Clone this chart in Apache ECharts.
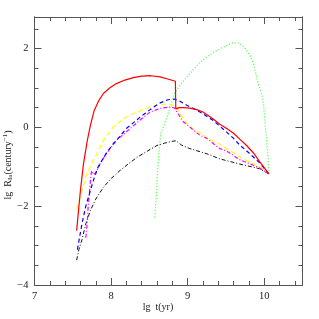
<!DOCTYPE html>
<html><head><meta charset="utf-8">
<script src="https://cdn.jsdelivr.net/npm/echarts@6/dist/echarts.min.js"></script>
<style>html,body{margin:0;padding:0;background:#fff}#c{width:319px;height:319px}</style>
</head><body><div id="c"></div>
<script>
const redData = [[7.55,-2.62],[7.60,-1.60],[7.64,-0.92],[7.69,-0.33],[7.73,0.05],[7.78,0.43],[7.84,0.68],[7.90,0.86],[7.98,1.00],[8.07,1.11],[8.18,1.20],[8.29,1.26],[8.40,1.30],[8.52,1.31],[8.64,1.28],[8.75,1.22],[8.84,1.17],[8.845,0.47],[8.89,0.50],[8.94,0.50],[9.03,0.49],[9.12,0.45],[9.20,0.39],[9.33,0.22],[9.42,0.08],[9.51,-0.03],[9.60,-0.15],[9.68,-0.30],[9.77,-0.46],[9.86,-0.65],[9.94,-0.87],[10.00,-1.02],[10.06,-1.18]];
const yellowData = [[7.55,-2.07],[7.62,-1.60],[7.68,-1.18],[7.74,-0.95],[7.79,-0.76],[7.85,-0.53],[7.90,-0.33],[7.97,-0.15],[8.03,0.01],[8.16,0.22],[8.34,0.39],[8.51,0.52],[8.64,0.58],[8.75,0.59],[8.84,0.54],[8.90,0.35],[8.99,0.09],[9.06,-0.03],[9.16,-0.14],[9.29,-0.31],[9.42,-0.43],[9.55,-0.59],[9.68,-0.75],[9.81,-0.88],[9.94,-1.00],[10.06,-1.18]];
const blueData = [[7.56,-3.10],[7.62,-2.45],[7.67,-2.00],[7.73,-1.60],[7.78,-1.28],[7.83,-1.01],[7.93,-0.68],[8.03,-0.41],[8.07,-0.33],[8.20,-0.03],[8.38,0.26],[8.51,0.45],[8.64,0.62],[8.74,0.70],[8.82,0.72],[8.90,0.66],[8.99,0.56],[9.16,0.39],[9.33,0.18],[9.51,-0.12],[9.60,-0.28],[9.68,-0.45],[9.79,-0.63],[9.94,-0.90],[10.06,-1.18]];
const magentaData = [[7.67,-2.80],[7.69,-2.40],[7.70,-2.03],[7.72,-1.60],[7.735,-1.25],[7.745,-1.10],[7.77,-1.20],[7.80,-1.15],[7.85,-0.95],[7.88,-0.84],[7.97,-0.58],[8.07,-0.33],[8.25,-0.03],[8.40,0.22],[8.51,0.39],[8.64,0.48],[8.77,0.52],[8.83,0.49],[8.86,0.39],[8.94,0.15],[9.07,-0.06],[9.16,-0.20],[9.25,-0.28],[9.42,-0.54],[9.51,-0.60],[9.68,-0.82],[9.94,-1.03],[10.06,-1.18]];
const blackData = [[7.55,-3.37],[7.58,-3.10],[7.62,-2.85],[7.67,-2.45],[7.73,-2.11],[7.80,-1.82],[7.90,-1.52],[8.00,-1.30],[8.12,-1.09],[8.23,-0.92],[8.34,-0.76],[8.51,-0.56],[8.60,-0.46],[8.70,-0.40],[8.81,-0.35],[8.85,-0.34],[8.92,-0.45],[9.03,-0.54],[9.25,-0.67],[9.42,-0.80],[9.68,-0.93],[9.94,-1.05],[10.06,-1.18]];
const greenData = [[8.57,-2.28],[8.59,-1.80],[8.60,-1.35],[8.62,-0.80],[8.63,-0.50],[8.65,-0.15],[8.69,0.05],[8.73,0.26],[8.78,0.56],[8.83,0.86],[8.91,1.10],[8.99,1.28],[9.08,1.48],[9.16,1.65],[9.25,1.78],[9.35,1.92],[9.46,2.03],[9.59,2.15],[9.66,2.14],[9.72,2.07],[9.77,1.96],[9.82,1.80],[9.86,1.62],[9.92,1.11],[9.96,0.90],[9.99,0.62],[10.01,0.15],[10.03,-0.33],[10.05,-0.75],[10.06,-1.18]];
const xTickLabels = [7,8,9,10];
const yTickLabels = [-4,-2,0,2];

const FONT = 'Liberation Serif';
const frame = {show:true, onZero:false, lineStyle:{color:'#555', width:1}};
function xAx(pos, interval, len, labels){
  return {type:'value', position:pos, min:7, max:10.5, interval:interval,
    axisLine:frame, splitLine:{show:false},
    axisTick:{show:true, inside:true, length:len, lineStyle:{color:'#555'}},
    axisLabel:{show:labels, margin:6, color:'#222', fontFamily:FONT, fontSize:10.5,
      formatter: v => xTickLabels.indexOf(Math.round(v*1000)/1000) >= 0 ? String(v) : ''}};
}
function yAx(pos, interval, len, labels){
  return {type:'value', position:pos, min:-4, max:2.8, interval:interval,
    axisLine:frame, splitLine:{show:false},
    axisTick:{show:true, inside:true, length:len, lineStyle:{color:'#555'}},
    axisLabel:{show:labels, margin:6, color:'#222', fontFamily:FONT, fontSize:10.5,
      formatter: v => yTickLabels.indexOf(Math.round(v*1000)/1000) >= 0 ? (v<0?'\u2212'+(-v):String(v)) : ''}};
}
function ser(data, color, type, w){
  return {type:'line', data:data, showSymbol:false, smooth:false, animation:false,
    xAxisIndex:0, yAxisIndex:0,
    lineStyle:{color:color, width:w||1, type:type}};
}
const chart = echarts.init(document.getElementById('c'), null, {renderer:'canvas'});
chart.setOption({
  backgroundColor:'#fff',
  animation:false,
  grid:{left:34.5, right:16.5, top:17, bottom:34, containLabel:false},
  xAxis:[xAx('bottom',1,7,true), xAx('bottom',0.2,4,false), xAx('top',1,7,false), xAx('top',0.2,4,false)],
  yAxis:[yAx('left',2,7,true), yAx('left',0.5,4,false), yAx('right',2,7,false), yAx('right',0.5,4,false)],
  series:[
    ser(greenData,'#33ff33',[1,2],1.2),
    ser(blackData,'#111',[4,2,1,2]),
    ser(yellowData,'#ffff00',[5,3],1.2),
    ser(magentaData,'#ff00ff',[4,2,1,2],1.2),
    ser(blueData,'#0000ff',[4,3],1.2),
    ser(redData,'#ff0000','solid',1.2)
  ],
  graphic:[
    {type:'text', x:158, y:307, style:{text:'lg  t(yr)', font:'10px "Liberation Serif"', fill:'#222', align:'center', verticalAlign:'middle'}},
    {type:'text', x:8, y:165, rotation:Math.PI/2,
      style:{text:'{n|lg  R}{s|Ia}{n|(century}{p|\u22121}{n|)}', fill:'#222', align:'center', verticalAlign:'middle',
        rich:{n:{fontFamily:FONT, fontSize:10, fill:'#222'},
              s:{fontFamily:FONT, fontSize:7, fill:'#222', padding:[4,0,0,0]},
              p:{fontFamily:FONT, fontSize:7, fill:'#222', padding:[0,0,5,0]}}}}
  ]
});
</script></body></html>
